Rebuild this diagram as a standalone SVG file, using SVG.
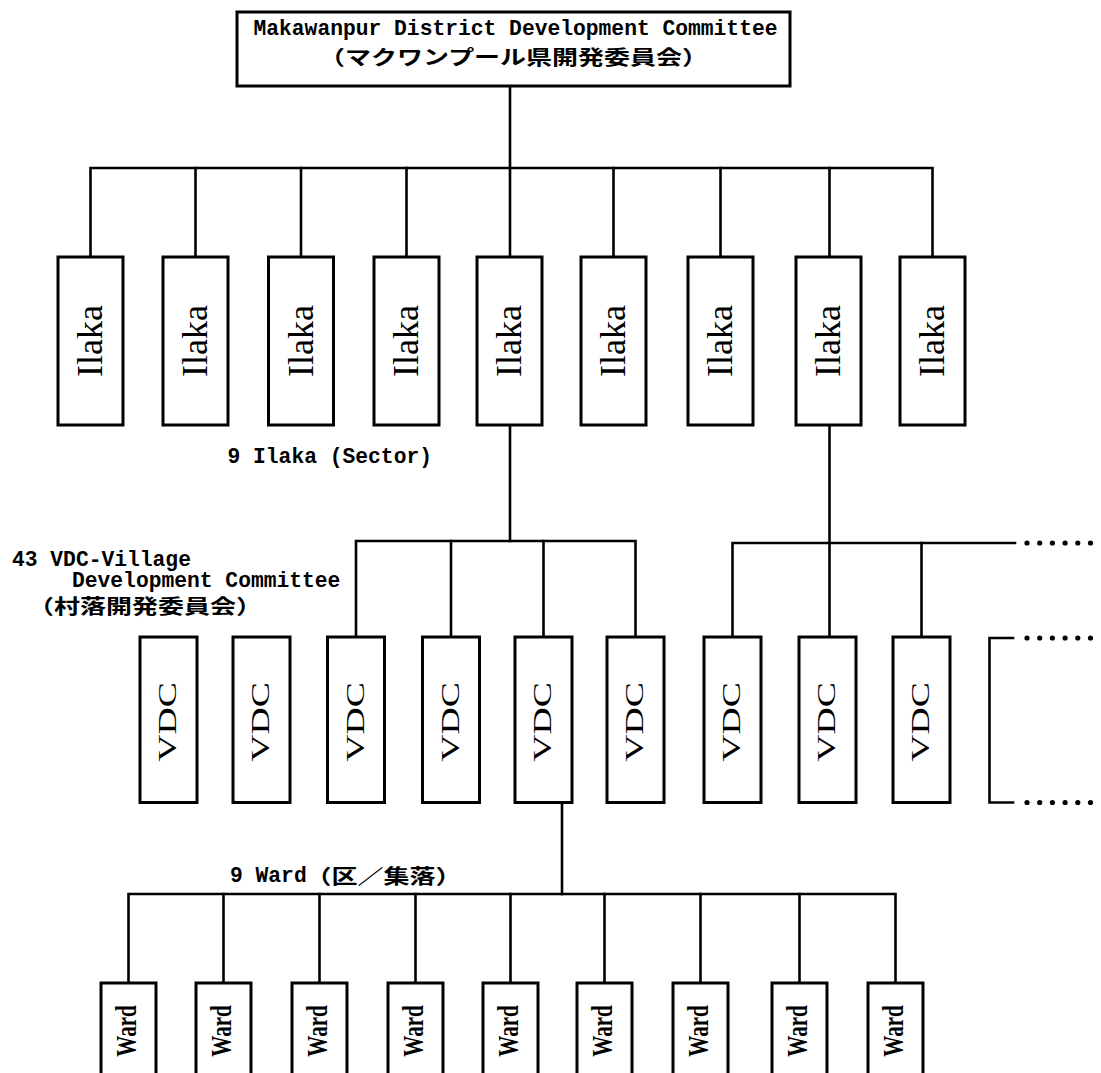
<svg xmlns="http://www.w3.org/2000/svg" width="1101" height="1073" viewBox="0 0 1101 1073">
<style>
.box{fill:#fff;stroke:#000;stroke-width:3}
.ln{fill:none;stroke:#000;stroke-width:2.6;stroke-linecap:square}
.m{font-family:"Liberation Mono",monospace;font-weight:bold;font-size:21.3px;fill:#000}
.j{font-family:"Noto Sans CJK JP",sans-serif;font-weight:bold;font-size:20px;fill:#000}
.il{font-family:"Liberation Serif",serif;font-size:36px;text-anchor:middle;fill:#000}
.vd{font-family:"Liberation Serif",serif;font-size:26px;text-anchor:middle;fill:#000}
.wd{font-family:"Liberation Serif",serif;font-weight:bold;font-size:30px;text-anchor:middle;fill:#000}
.dot{fill:#000}
</style>
<rect x="0" y="0" width="1101" height="1073" fill="#fff"/>

<g id="connectors">
  <path class="ln" d="M510,86 V257"/>
  <path class="ln" d="M90.5,257 V168 H932.5 V257"/>
  <path class="ln" d="M195.5,168 V257 M301,168 V257 M406.5,168 V257 M613.5,168 V257 M720.5,168 V257 M829.5,168 V257"/>
  <path class="ln" d="M510,425 V541"/>
  <path class="ln" d="M356,637 V541 H635.5 V637"/>
  <path class="ln" d="M451,541 V637 M543.5,541 V637"/>
  <path class="ln" d="M829.5,425 V637"/>
  <path class="ln" d="M732.5,637 V543 H1015"/>
  <path class="ln" d="M921.5,543 V637"/>
  <path class="ln" d="M1013,638 H989.5 V802.5 H1013"/>
  <g class="dot">
    <circle cx="1027" cy="543" r="2.6"/><circle cx="1039.7" cy="543" r="2.6"/><circle cx="1052.4" cy="543" r="2.6"/><circle cx="1065.1" cy="543" r="2.6"/><circle cx="1077.8" cy="543" r="2.6"/><circle cx="1090.5" cy="543" r="2.6"/>
    <circle cx="1027" cy="638" r="2.6"/><circle cx="1039.7" cy="638" r="2.6"/><circle cx="1052.4" cy="638" r="2.6"/><circle cx="1065.1" cy="638" r="2.6"/><circle cx="1077.8" cy="638" r="2.6"/><circle cx="1090.5" cy="638" r="2.6"/>
    <circle cx="1027" cy="802.5" r="2.6"/><circle cx="1039.7" cy="802.5" r="2.6"/><circle cx="1052.4" cy="802.5" r="2.6"/><circle cx="1065.1" cy="802.5" r="2.6"/><circle cx="1077.8" cy="802.5" r="2.6"/><circle cx="1090.5" cy="802.5" r="2.6"/>
  </g>
  <path class="ln" d="M562,802 V894"/>
  <path class="ln" d="M128.5,983 V894 H895.5 V983"/>
  <path class="ln" d="M223.5,894 V983 M319.5,894 V983 M415.5,894 V983 M510.5,894 V983 M604.5,894 V983 M700.5,894 V983 M799.5,894 V983"/>
</g>

<g id="ddc">
  <rect class="box" x="237" y="12" width="553" height="74"/>
  <text class="m" x="515.5" y="35" text-anchor="middle">Makawanpur District Development Committee</text>
  <text class="j" transform="translate(513.5,65) scale(1.3,1)" text-anchor="middle">（マクワンプール県開発委員会）</text>
</g>

<g id="ilaka1"><rect class="box" x="58" y="257" width="65" height="168"/><text class="il" transform="translate(90.5,341) rotate(-90)" y="11.5">Ilaka</text></g>
<g id="ilaka2"><rect class="box" x="163" y="257" width="65" height="168"/><text class="il" transform="translate(195.5,341) rotate(-90)" y="11.5">Ilaka</text></g>
<g id="ilaka3"><rect class="box" x="268.5" y="257" width="65" height="168"/><text class="il" transform="translate(301,341) rotate(-90)" y="11.5">Ilaka</text></g>
<g id="ilaka4"><rect class="box" x="374" y="257" width="65" height="168"/><text class="il" transform="translate(406.5,341) rotate(-90)" y="11.5">Ilaka</text></g>
<g id="ilaka5"><rect class="box" x="477" y="257" width="65" height="168"/><text class="il" transform="translate(509.5,341) rotate(-90)" y="11.5">Ilaka</text></g>
<g id="ilaka6"><rect class="box" x="581" y="257" width="65" height="168"/><text class="il" transform="translate(613.5,341) rotate(-90)" y="11.5">Ilaka</text></g>
<g id="ilaka7"><rect class="box" x="688" y="257" width="65" height="168"/><text class="il" transform="translate(720.5,341) rotate(-90)" y="11.5">Ilaka</text></g>
<g id="ilaka8"><rect class="box" x="796" y="257" width="65" height="168"/><text class="il" transform="translate(828.5,341) rotate(-90)" y="11.5">Ilaka</text></g>
<g id="ilaka9"><rect class="box" x="900" y="257" width="65" height="168"/><text class="il" transform="translate(932.5,341) rotate(-90)" y="11.5">Ilaka</text></g>

<g id="label-ilaka"><text class="m" x="227.5" y="463">9 Ilaka (Sector)</text></g>

<g id="label-vdc">
  <text class="m" x="12" y="566">43 VDC-Village</text>
  <text class="m" x="72" y="587">Development Committee</text>
  <text class="j" transform="translate(28,614) scale(1.3,1)">（村落開発委員会）</text>
</g>

<g id="vdc1"><rect class="box" x="140" y="637" width="57" height="165.5"/><text class="vd" transform="translate(168.5,722) rotate(-90) scale(1.45,1)" y="7.5">VDC</text></g>
<g id="vdc2"><rect class="box" x="233" y="637" width="57" height="165.5"/><text class="vd" transform="translate(261.5,722) rotate(-90) scale(1.45,1)" y="7.5">VDC</text></g>
<g id="vdc3"><rect class="box" x="327.5" y="637" width="57" height="165.5"/><text class="vd" transform="translate(356,722) rotate(-90) scale(1.45,1)" y="7.5">VDC</text></g>
<g id="vdc4"><rect class="box" x="422.5" y="637" width="57" height="165.5"/><text class="vd" transform="translate(451,722) rotate(-90) scale(1.45,1)" y="7.5">VDC</text></g>
<g id="vdc5"><rect class="box" x="515" y="637" width="57" height="165.5"/><text class="vd" transform="translate(543.5,722) rotate(-90) scale(1.45,1)" y="7.5">VDC</text></g>
<g id="vdc6"><rect class="box" x="607" y="637" width="57" height="165.5"/><text class="vd" transform="translate(635.5,722) rotate(-90) scale(1.45,1)" y="7.5">VDC</text></g>
<g id="vdc7"><rect class="box" x="704" y="637" width="57" height="165.5"/><text class="vd" transform="translate(732.5,722) rotate(-90) scale(1.45,1)" y="7.5">VDC</text></g>
<g id="vdc8"><rect class="box" x="799" y="637" width="57" height="165.5"/><text class="vd" transform="translate(827.5,722) rotate(-90) scale(1.45,1)" y="7.5">VDC</text></g>
<g id="vdc9"><rect class="box" x="893" y="637" width="57" height="165.5"/><text class="vd" transform="translate(921.5,722) rotate(-90) scale(1.45,1)" y="7.5">VDC</text></g>

<g id="label-ward">
  <text class="m" x="230" y="882">9 Ward</text>
  <text class="j" transform="translate(305.6,884) scale(1.3,1)">（区／集落）</text>
</g>

<g id="ward1"><rect class="box" x="101" y="983" width="55" height="100"/><text class="wd" transform="translate(128.5,1031) rotate(-90) scale(0.7,1)" y="7">Ward</text></g>
<g id="ward2"><rect class="box" x="196" y="983" width="55" height="100"/><text class="wd" transform="translate(223.5,1031) rotate(-90) scale(0.7,1)" y="7">Ward</text></g>
<g id="ward3"><rect class="box" x="292" y="983" width="55" height="100"/><text class="wd" transform="translate(319.5,1031) rotate(-90) scale(0.7,1)" y="7">Ward</text></g>
<g id="ward4"><rect class="box" x="388" y="983" width="55" height="100"/><text class="wd" transform="translate(415.5,1031) rotate(-90) scale(0.7,1)" y="7">Ward</text></g>
<g id="ward5"><rect class="box" x="483" y="983" width="55" height="100"/><text class="wd" transform="translate(510.5,1031) rotate(-90) scale(0.7,1)" y="7">Ward</text></g>
<g id="ward6"><rect class="box" x="577" y="983" width="55" height="100"/><text class="wd" transform="translate(604.5,1031) rotate(-90) scale(0.7,1)" y="7">Ward</text></g>
<g id="ward7"><rect class="box" x="673" y="983" width="55" height="100"/><text class="wd" transform="translate(700.5,1031) rotate(-90) scale(0.7,1)" y="7">Ward</text></g>
<g id="ward8"><rect class="box" x="772" y="983" width="55" height="100"/><text class="wd" transform="translate(799.5,1031) rotate(-90) scale(0.7,1)" y="7">Ward</text></g>
<g id="ward9"><rect class="box" x="868" y="983" width="55" height="100"/><text class="wd" transform="translate(895.5,1031) rotate(-90) scale(0.7,1)" y="7">Ward</text></g>
</svg>
